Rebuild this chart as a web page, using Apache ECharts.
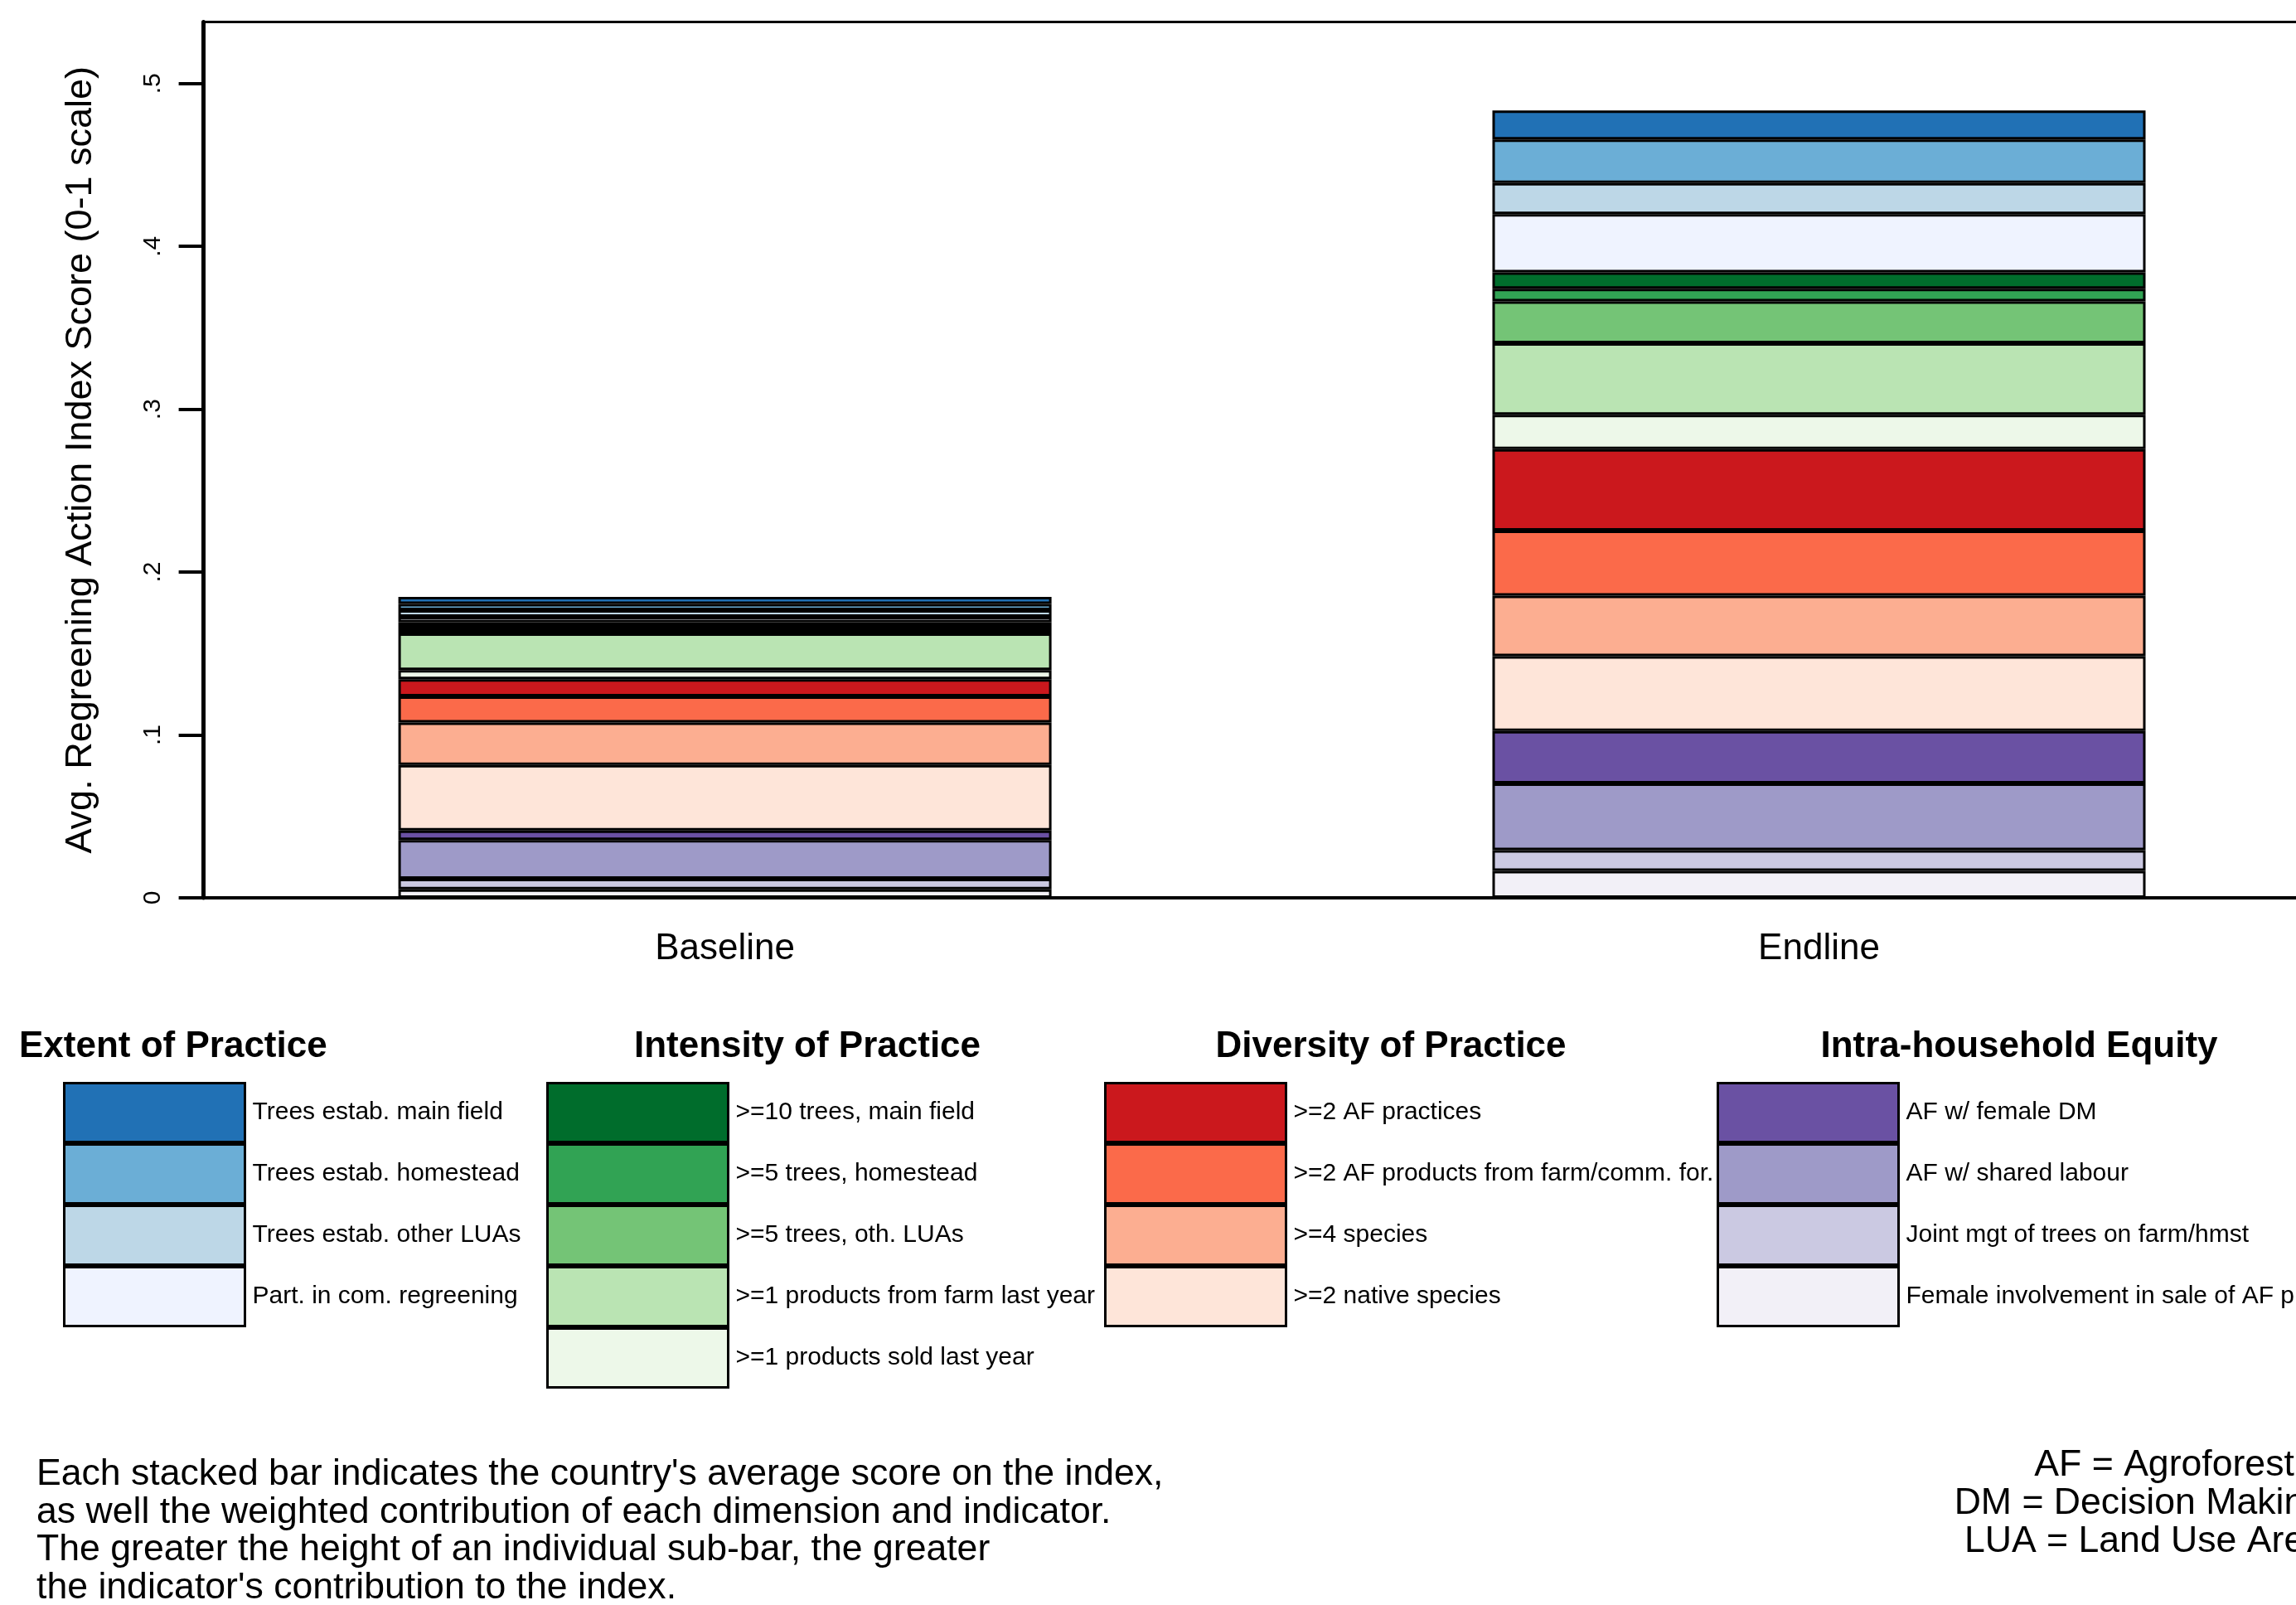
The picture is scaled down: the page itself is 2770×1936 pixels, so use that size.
<!DOCTYPE html>
<html>
<head>
<meta charset="utf-8">
<script src="https://cdn.jsdelivr.net/npm/echarts@6/dist/echarts.min.js"></script>
<style>
html,body{margin:0;padding:0;background:#fff;}
#chart{width:2770px;height:1936px;}
</style>
</head>
<body>
<div id="chart"></div>
<script>
// ---------- data ----------
const categories = ['Baseline', 'Endline'];
const yTickValues = [0, 0.1, 0.2, 0.3, 0.4, 0.5];

// Extent of Practice (legend order, top to bottom)
const extentNames = ['Trees estab. main field', 'Trees estab. homestead', 'Trees estab. other LUAs', 'Part. in com. regreening'];
const extentBaseline = [0.0043, 0.0039, 0.0040, 0.0034];
const extentEndline  = [0.0178, 0.0267, 0.0191, 0.0357];
const extentColors = ['#2171b5', '#6baed6', '#bdd7e7', '#eff3ff'];

// Intensity of Practice
const intensityNames = ['>=10 trees, main field', '>=5 trees, homestead', '>=5 trees, oth. LUAs', '>=1 products from farm last year', '>=1 products sold last year'];
const intensityBaseline = [0.0028, 0.0020, 0.0020, 0.0226, 0.0056];
const intensityEndline  = [0.0101, 0.0077, 0.0258, 0.0438, 0.0212];
const intensityColors = ['#006d2c', '#31a354', '#74c476', '#bae4b3', '#edf8e9'];

// Diversity of Practice
const diversityNames = ['>=2 AF practices', '>=2 AF products from farm/comm. for.', '>=4 species', '>=2 native species'];
const diversityBaseline = [0.0105, 0.0161, 0.0260, 0.0402];
const diversityEndline  = [0.0500, 0.0400, 0.0371, 0.0459];
const diversityColors = ['#cb181d', '#fb6a4a', '#fcae91', '#fee5d9'];

// Intra-household Equity
const equityNames = ['AF w/ female DM', 'AF w/ shared labour', 'Joint mgt of trees on farm/hmst', 'Female involvement in sale of AF products'];
const equityBaseline = [0.0059, 0.0238, 0.0065, 0.0052];
const equityEndline  = [0.0322, 0.0410, 0.0127, 0.0166];
const equityColors = ['#6a51a3', '#9e9ac8', '#cbc9e2', '#f2f0f7'];

const groupTitles = ['Extent of Practice', 'Intensity of Practice', 'Diversity of Practice', 'Intra-household Equity'];
const yAxisTitle = 'Avg. Regreening Action Index Score (0-1 scale)';
const noteLines = [
  "Each stacked bar indicates the country's average score on the index,",
  "as well the weighted contribution of each dimension and indicator.",
  "The greater the height of an individual sub-bar, the greater",
  "the indicator's contribution to the index."
];
const abbrevLines = ['AF = Agroforestry', 'DM = Decision Making', 'LUA = Land Use Area'];

// ---------- build ----------
const FONT = '"Liberation Sans", Arial, sans-serif';
const groups = [
  {names: extentNames, base: extentBaseline, end: extentEndline, colors: extentColors},
  {names: intensityNames, base: intensityBaseline, end: intensityEndline, colors: intensityColors},
  {names: diversityNames, base: diversityBaseline, end: diversityEndline, colors: diversityColors},
  {names: equityNames, base: equityBaseline, end: equityEndline, colors: equityColors}
];

// stacking order bottom -> top: equity, diversity, intensity, extent; within group reversed legend order
const series = [];
for (let g = groups.length - 1; g >= 0; g--) {
  const grp = groups[g];
  for (let i = grp.names.length - 1; i >= 0; i--) {
    series.push({
      name: grp.names[i],
      type: 'bar',
      stack: 'total',
      barWidth: 788,
      clip: false,
      xAxisIndex: 0,
      yAxisIndex: 0,
      itemStyle: {color: grp.colors[i], borderColor: '#000', borderWidth: 3},
      emphasis: {disabled: true},
      data: [grp.base[i], grp.end[i]]
    });
  }
}

const legendLefts = [76, 659, 1332, 2071];
const legends = groups.map((grp, g) => ({
  data: grp.names,
  orient: 'vertical',
  left: legendLefts[g],
  top: 1305,
  padding: 0,
  itemGap: 0,
  itemWidth: 218,
  itemHeight: 71,
  icon: 'rect',
  selectedMode: false,
  itemStyle: {borderColor: '#000', borderWidth: 3},
  textStyle: {fontFamily: FONT, fontSize: 30, color: '#000', padding: [0, 0, 0, 4]}
}));

const titleCenters = [null, 974, 1678, 2436];
const graphics = [];
groupTitles.forEach((t, g) => {
  graphics.push({
    type: 'text',
    x: g === 0 ? 23 : titleCenters[g],
    y: 1263,
    style: {text: t, fontFamily: FONT, fontSize: 44, fontWeight: 'bold', fill: '#000',
            textAlign: g === 0 ? 'left' : 'center', textVerticalAlign: 'middle'}
  });
});
noteLines.forEach((t, i) => {
  graphics.push({type: 'text', x: 44, y: 1779 + i * 45.5,
    style: {text: t, fontFamily: FONT, fontSize: 44.6, fill: '#000', textAlign: 'left', textVerticalAlign: 'middle'}});
});
abbrevLines.forEach((t, i) => {
  graphics.push({type: 'text', x: 2805, y: 1768 + i * 46,
    style: {text: t, fontFamily: FONT, fontSize: 44.6, fill: '#000', textAlign: 'right', textVerticalAlign: 'middle'}});
});

const Y_MAX = 0.5378;
const option = {
  animation: false,
  backgroundColor: '#fff',
  grid: [
    // bars grid: category points at the bar centres
    {left: 874.6, top: 26.5, width: 1319.9, bottom: 853, containLabel: false, outerBoundsMode: 'none'},
    // frame grid: the visible axes
    {left: 245.6, top: 26.5, right: 0, bottom: 853, containLabel: false}
  ],
  xAxis: [{
    type: 'category', data: categories, gridIndex: 0, boundaryGap: false,
    axisLine: {show: false}, axisTick: {show: false}, splitLine: {show: false},
    axisLabel: {fontFamily: FONT, fontSize: 44, color: '#000', margin: 40, interval: 0}
  }, {
    type: 'value', gridIndex: 1, min: 0, max: 1, position: 'bottom',
    axisLine: {show: true, lineStyle: {color: '#000', width: 4}},
    axisTick: {show: false}, axisLabel: {show: false}, splitLine: {show: false}
  }, {
    type: 'value', gridIndex: 1, min: 0, max: 1, position: 'top',
    axisLine: {show: true, onZero: false, lineStyle: {color: '#000', width: 3}},
    axisTick: {show: false}, axisLabel: {show: false}, splitLine: {show: false}
  }],
  yAxis: [{
    type: 'value', gridIndex: 0, min: 0, max: Y_MAX,
    axisLine: {show: false}, axisTick: {show: false}, axisLabel: {show: false}, splitLine: {show: false}
  }, {
    type: 'value', gridIndex: 1, min: 0, max: Y_MAX,
    name: yAxisTitle, nameLocation: 'middle', nameGap: 126,
    nameTextStyle: {fontFamily: FONT, fontSize: 45, color: '#000'},
    axisLine: {show: true, onZero: false, lineStyle: {color: '#000', width: 5}},
    axisTick: {show: true, length: 30, customValues: yTickValues, lineStyle: {color: '#000', width: 4}},
    axisLabel: {
      customValues: yTickValues, rotate: 90, margin: 46,
      formatter: v => v === 0 ? '0' : String(Math.round(v * 10) / 10).replace(/^0\./, '.'),
      fontFamily: FONT, fontSize: 30, color: '#000'
    },
    splitLine: {show: false}
  }],
  legend: legends,
  graphic: graphics,
  series: series
};

const chart = echarts.init(document.getElementById('chart'), null, {renderer: 'canvas'});
chart.setOption(option);
</script>
</body>
</html>
